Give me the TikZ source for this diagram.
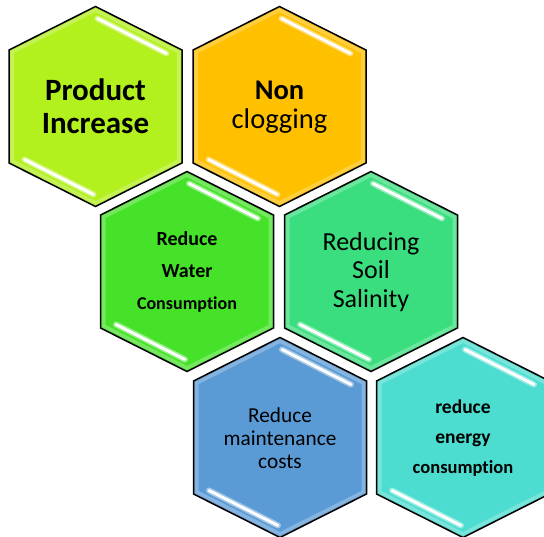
\documentclass[tikz,border=0pt]{standalone}
\usepackage{fontspec}
\setmainfont{Carlito}[Ligatures={NoCommon,NoRare,NoContextual}, Contextuals=NoAlternate]

\definecolor{limecell}{RGB}{178,240,30}
\definecolor{goldcell}{RGB}{255,192,0}
\definecolor{greencell}{RGB}{70,226,42}
\definecolor{mintcell}{RGB}{58,222,126}
\definecolor{bluecell}{RGB}{91,155,213}
\definecolor{aquacell}{RGB}{76,221,208}

\def\hexpath{(0,-100) -- (86.5,-56.5) -- (86.5,56.5) -- (0,100) -- (-86.5,56.5) -- (-86.5,-56.5) -- cycle}

% one hexagon cell: #1 centre, #2 fill colour
\newcommand{\hexcell}[2]{%
  \begin{scope}[shift={#1}]
    \fill[#2] \hexpath;
    \begin{scope}
      \clip \hexpath;
      \draw[white, opacity=0.25, line width=10pt] \hexpath;
      \draw[#2!85!black, opacity=0.35, line width=3pt] \hexpath;
    \end{scope}
    \draw[hexglow] (2,-88) -- (71,-53);
    \draw[hexline] (2,-88) -- (71,-53);
    \draw[hexglow] (-2,88) -- (-71,53);
    \draw[hexline] (-2,88) -- (-71,53);
    \draw[black, line width=1.5pt] \hexpath;
  \end{scope}}

\begin{document}
\begin{tikzpicture}[x=1pt, y=-1pt,
  hexlabel/.style={align=center, text=black, inner sep=0pt},
  hexline/.style={white, line width=2.8pt, line cap=round},
  hexglow/.style={white, opacity=0.45, line width=6pt, line cap=round}]
\useasboundingbox (0,0) rectangle (544,537);

% cells
\hexcell{(95.5,106.5)}{limecell}
\hexcell{(279.5,106.5)}{goldcell}
\hexcell{(187,271.5)}{greencell}
\hexcell{(371,271.5)}{mintcell}
\hexcell{(280,437.5)}{bluecell}
\hexcell{(463,437.5)}{aquacell}

% labels
\node (product) at (95.5,106.5) [hexlabel, font=\bfseries\fontsize{31}{33}\selectfont] {Product\\Increase};
\node (clogging) at (279.5,107) [hexlabel, font=\fontsize{28.5}{29}\selectfont] {\textbf{Non}\\clogging};
\node (water) at (187,271.5) [hexlabel, font=\bfseries\fontsize{20}{32}\selectfont] {Reduce\\Water\\{\fontsize{18}{32}\selectfont Consumption}};
\node (salinity) at (371,272) [hexlabel, font=\fontsize{26}{28.5}\selectfont] {Reducing\\Soil\\Salinity};
\node (maintenance) at (280,438) [hexlabel, font=\fontsize{21.3}{23.3}\selectfont] {Reduce\\maintenance\\costs};
\node (energy) at (463,438) [hexlabel, font=\bfseries\fontsize{19.5}{30}\selectfont] {reduce\\energy\\{\fontsize{18.5}{30}\selectfont consumption}};
\end{tikzpicture}
\end{document}
